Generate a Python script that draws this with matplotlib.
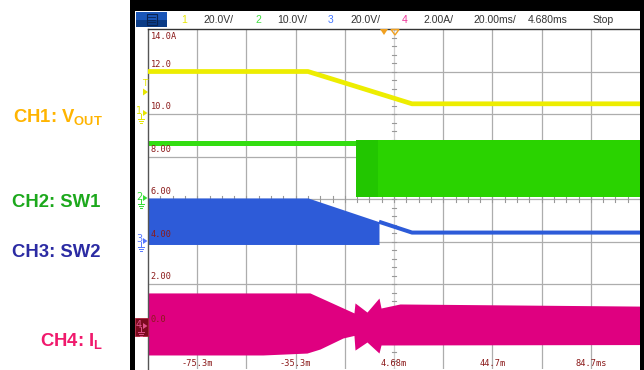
import numpy as np
import matplotlib
matplotlib.use('Agg')
import matplotlib.pyplot as plt
from matplotlib.patches import Rectangle, Polygon

# ---------------- data ----------------
t_start, t_end = -95.32, 104.68          # ms (20 ms/div, centre 4.68 ms)
x_label_pos = [-75.32, -35.32, 4.68, 44.68, 84.68]
x_label_txt = ['-75.3m', '-35.3m', '4.68m', '44.7m', '84.7ms']
y_label_vals = [14, 12, 10, 8, 6, 4, 2, 0]
y_label_txt = ['14.0A', '12.0', '10.0', '8.00', '6.00', '4.00', '2.00', '0.0']

# CH1 Vout (screen units)
vout_t = [-95.32, -30.3, 12.0, 104.68]
vout_v = [12.0, 12.0, 10.48, 10.48]

# CH2 SW1: idle line, then switching burst
sw1_t = [-95.32, -10.77]
sw1_v = [8.64, 8.64]
sw1_burst_t = [-10.77, 104.68]
sw1_burst_hi = [8.78, 8.78]
sw1_burst_lo = [6.09, 6.09]
sw1_dense_t = [-10.77, -1.8]

# CH3 SW2: switching burst envelope, then DC line
sw2_t = [-95.32, -30.3, -1.42, 12.0, 104.68]
sw2_v = [6.05, 6.05, 4.93, 4.42, 4.42]
sw2_burst_end = -1.42
sw2_lo = 3.86

# CH4 IL envelope
il_top_t = [-95.32, -29.5, -21.3, -11.6, -11.17, -6.3, -1.42, -0.6, 7.1, 104.68]
il_top_v = [1.58, 1.58, 1.15, 0.64, 1.11, 0.68, 1.34, 0.87, 1.06, 0.96]
il_bot_t = [-95.32, -48.6, -30.7, -25.4, -16.05, -11.6, -11.17, -6.3, -1.42, -0.6, 104.68]
il_bot_v = [-1.34, -1.34, -1.25, -1.06, -0.54, -0.42, -1.11, -0.73, -1.25, -0.87, -0.85]

# header of the scope
header_txt = ['1', '20.0V/', '2', '10.0V/', '3', '20.0V/', '4', '2.00A/', '20.00ms/', '4.680ms', 'Stop']
header_x = [181, 203, 255, 277, 328, 350, 402, 423, 473, 528, 593]
header_col = ['#E8E800', '#333333', '#44DD44', '#333333', '#4477FF', '#333333',
              '#EE3399', '#333333', '#333333', '#333333', '#333333']

# side labels
side_labels = ['CH1: V$_{\\mathrm{OUT}}$', 'CH2: SW1', 'CH3: SW2', 'CH4: I$_{\\mathrm{L}}$']
side_colors = ['#FFB400', '#1CA81C', '#2B2BA3', '#F0196C']

# ---------------- figure ----------------
W, H = 644, 370
plt.rcParams['mathtext.fontset'] = 'custom'
plt.rcParams['mathtext.rm'] = 'Liberation Sans:bold'
plt.rcParams['mathtext.it'] = 'Liberation Sans:bold'
plt.rcParams['mathtext.bf'] = 'Liberation Sans:bold'

fig = plt.figure(figsize=(W / 100, H / 100), dpi=100, facecolor='white')

ax = fig.add_axes([148 / W, 1 - 369 / H, 492 / W, 340 / H], zorder=1)
ax.set_facecolor('white')
ax.set_xlim(t_start, t_end)
ax.set_ylim(-2, 14)
ax.set_xticks([])
ax.set_yticks([])
for s in ['right', 'bottom']:
    ax.spines[s].set_visible(False)
ax.spines['left'].set_color('#555555')
ax.spines['left'].set_linewidth(1.0)
ax.spines['top'].set_color('#333333')
ax.spines['top'].set_linewidth(1.0)

grid_c = '#ADADAD'
for k in range(1, 10):
    xv = t_start + 20 * k
    ax.axvline(xv, color=('#CFCFCF' if k == 5 else grid_c), lw=0.9, zorder=0)
for k in range(1, 8):
    ax.axhline(-2 + 2 * k, color=grid_c, lw=0.9, zorder=0)
# centre-line ticks
xc = t_start + 100
for yv in np.arange(-2, 14.01, 0.4):
    ax.plot([xc - 0.7, xc + 0.7], [yv, yv], color='#999999', lw=0.8, zorder=0.5)
for xv in np.arange(t_start, t_end + 0.01, 5):
    ax.plot([xv, xv], [6 - 0.12, 6 + 0.12], color='#999999', lw=0.8, zorder=0.5)

# CH4 IL
t_il = np.union1d(il_top_t, il_bot_t)
ax.fill_between(t_il, np.interp(t_il, il_bot_t, il_bot_v), np.interp(t_il, il_top_t, il_top_v),
                color='#DF0080', lw=0, zorder=2)

# CH3 SW2
t_b = np.array([t for t in sw2_t if t <= sw2_burst_end])
ax.fill_between(t_b, sw2_lo, np.interp(t_b, sw2_t, sw2_v), color='#2D5BD8', lw=0, zorder=2)
t_l = np.array([sw2_burst_end] + [t for t in sw2_t if t > sw2_burst_end])
ax.plot(t_l, np.interp(t_l, sw2_t, sw2_v), color='#2D5BD8', lw=2.9, solid_capstyle='butt', zorder=2)

# CH2 SW1
ax.plot(sw1_t, sw1_v, color='#33DD11', lw=3.6, solid_capstyle='butt', zorder=2)
ax.fill_between(sw1_burst_t, sw1_burst_lo, sw1_burst_hi, color='#2AD300', lw=0, zorder=2)
ax.fill_between(sw1_dense_t, sw1_burst_lo[0], sw1_burst_hi[0], color='#22C600', lw=0, zorder=2)

# CH1 Vout
ax.plot(vout_t, vout_v, color='#EDED00', lw=3.4, solid_capstyle='butt', zorder=3)

# scale labels
lab_c = '#8B1A1A'
for v, s in zip(y_label_vals, y_label_txt):
    if v == 14:
        ax.text(t_start + 1.0, v - 0.15, s, ha='left', va='top', fontsize=6.2,
                family='DejaVu Sans Mono', color=lab_c, zorder=10)
    else:
        ax.text(t_start + 1.0, v + 0.12, s, ha='left', va='bottom', fontsize=6.2,
                family='DejaVu Sans Mono', color=lab_c, zorder=10)
for xv, s in zip(x_label_pos, x_label_txt):
    ax.text(xv, -1.76, s, ha='center', va='center', fontsize=6.2,
            family='DejaVu Sans Mono', color=lab_c, zorder=10)

# ---------------- overlay in pixel coords ----------------
ov = fig.add_axes([0, 0, 1, 1], zorder=5)
ov.set_xlim(0, W)
ov.set_ylim(H, 0)
ov.axis('off')
ov.patch.set_alpha(0)

ov.add_patch(Rectangle((130, 0), 514, 11, color='black', lw=0))
ov.add_patch(Rectangle((130, 0), 5.5, H, color='black', lw=0))
ov.add_patch(Rectangle((640, 0), 4, H, color='black', lw=0))

# menu button
ov.add_patch(Rectangle((136, 12), 31, 8, color='#1A56B8', lw=0))
ov.add_patch(Rectangle((136, 19.5), 31, 7.5, color='#0B3C86', lw=0))
ov.add_patch(Rectangle((147, 14), 10, 11, facecolor='none', edgecolor='#0A2350', lw=0.8))
for yy in (17, 19.5, 22):
    ov.plot([148.5, 155.5], [yy, yy], color='#0A2350', lw=0.6)

for s, xh, c in zip(header_txt, header_x, header_col):
    ov.text(xh, 20, s, ha='left', va='center', fontsize=7.5, family='Liberation Sans', color=c)

# trigger / delay markers
ov.add_patch(Polygon([(380, 29), (388, 29), (384, 35)], closed=True, color='#F0A020', lw=0))
ov.add_patch(Polygon([(391, 29.5), (399, 29.5), (395, 35)], closed=True, facecolor='none',
                     edgecolor='#F0A020', lw=1.0))

# channel markers on the left
def ch_marker(y, num, color, box=False):
    if box:
        ov.add_patch(Rectangle((135.5, y - 8), 12.5, 18, facecolor='#7A0A1E', edgecolor='#B0203A', lw=0.6))
    ov.text(139, y - 1.5, num, ha='center', va='center', fontsize=7, family='DejaVu Sans', color=color)
    ov.add_patch(Polygon([(143, y - 3), (143, y + 3), (147.5, y)], closed=True, color=color, lw=0))
    ov.plot([141, 141], [y + 1, y + 5.5], color=color, lw=0.7)
    ov.plot([138, 144], [y + 5.5, y + 5.5], color=color, lw=0.7)
    ov.plot([139, 143], [y + 7.5, y + 7.5], color=color, lw=0.7)
    ov.plot([140.2, 141.8], [y + 9.5, y + 9.5], color=color, lw=0.7)

ch_marker(113, '1', '#E6E600')
ch_marker(198, '2', '#33DD33')
ch_marker(241, '3', '#5577FF')
ch_marker(326, '4', '#E0508A', box=True)
# trigger level marker
ov.text(144.5, 83, 'T', ha='center', va='center', fontsize=6.5, family='DejaVu Sans', color='#E6E600')
ov.add_patch(Polygon([(143, 88.5), (143, 95.5), (148, 92)], closed=True, color='#E6E600', lw=0))

# side labels
side_x = [13, 12, 12, 40]
side_y = [122, 207, 257, 346]
for s, c, xx, yy in zip(side_labels, side_colors, side_x, side_y):
    ov.text(xx, yy, s, ha='left', va='baseline', fontsize=13.3, family='Liberation Sans',
            weight='bold', color=c)

fig.savefig('out.png', dpi=100, facecolor='white')
